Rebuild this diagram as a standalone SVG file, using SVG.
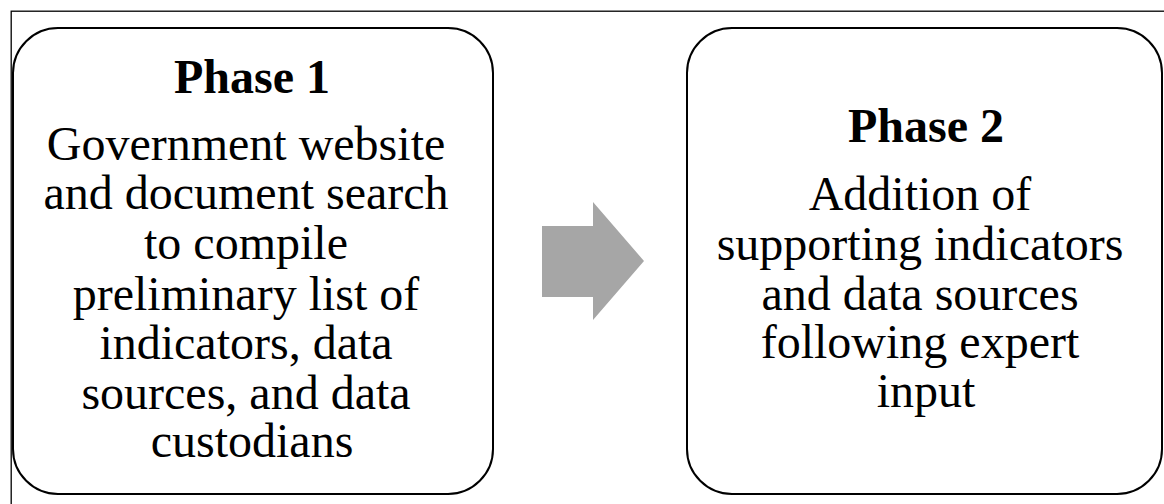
<svg xmlns="http://www.w3.org/2000/svg" width="1164" height="504" viewBox="0 0 1164 504">
  <style>
    .frame { fill: none; stroke: #000; stroke-width: 1.3; }
    .phase { fill: #fff; stroke: #000; stroke-width: 2; }
    .title { font-family: "Liberation Serif", "Times New Roman", serif; font-size: 48px; font-weight: bold; fill: #000; text-anchor: middle; }
    .body { font-family: "Liberation Serif", "Times New Roman", serif; font-size: 48px; fill: #000; text-anchor: middle; }
  </style>
  <rect width="1164" height="504" fill="#fff"/>
  <!-- outer frame, running off the right and bottom edges -->
  <rect class="frame" x="11.2" y="11.2" width="1170" height="510"/>

  <g id="phase1">
    <rect class="phase" x="13" y="28" width="480" height="466" rx="45" ry="45"/>
    <text class="title" x="252" y="93">Phase 1</text>
    <text class="body" x="252">
      <tspan x="252" y="160">Government website</tspan>
      <tspan x="252" y="209">and document search</tspan>
      <tspan x="252" y="259">to compile</tspan>
      <tspan x="252" y="310">preliminary list of</tspan>
      <tspan x="252" y="359">indicators, data</tspan>
      <tspan x="252" y="409">sources, and data</tspan>
      <tspan x="252" y="457">custodians</tspan>
    </text>
  </g>

  <g id="connectors">
    <polygon fill="#a6a6a6" points="542,226 593,226 593,202 644,261 593,320 593,297 542,297"/>
  </g>

  <g id="phase2">
    <rect class="phase" x="687" y="28" width="475" height="466" rx="45" ry="45"/>
    <text class="title" x="926" y="142">Phase 2</text>
    <text class="body" x="926">
      <tspan x="926" y="210">Addition of</tspan>
      <tspan x="926" y="260">supporting indicators</tspan>
      <tspan x="926" y="310">and data sources</tspan>
      <tspan x="926" y="358">following expert</tspan>
      <tspan x="926" y="407">input</tspan>
    </text>
  </g>
</svg>
